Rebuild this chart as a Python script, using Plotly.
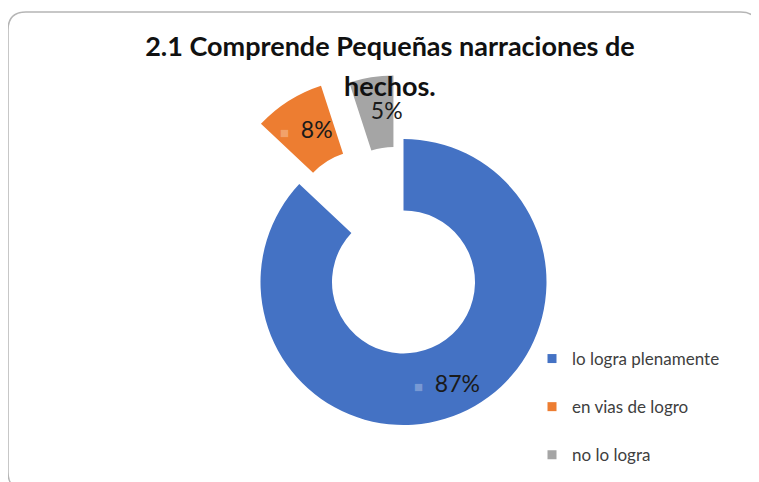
import math
import plotly.graph_objects as go

# ---------------- data ----------------
categories = ["lo logra plenamente", "en vias de logro", "no lo logra"]
values = [87, 8, 5]
colors = ["#4472C4", "#ED7D31", "#A5A5A5"]
key_colors = ["rgba(255,255,255,0.3)", "rgba(255,255,255,0.3)", "rgba(255,255,255,0.3)"]
pulls = [0.0, 0.50, 0.45]
title_line1 = "2.1 Comprende Pequeñas narraciones de"
title_line2 = "hechos."

# ---------------- layout constants (pixels) ----------------
W, H = 759, 482
OFF = 8            # page body margin
CX, CY, R = 403.5, 282.0, 143.0
HOLE = 0.5
LABEL_R = 0.77
FONT = "Lato"


def fx(x):
    return (x - OFF) / W


def fy(y):
    return 1 - (y - OFF) / H


fig = go.Figure()
annotations = []

total = sum(values)
cum = 0.0
for i, v in enumerate(values):
    mid = (cum + v / 2.0) / total * 2 * math.pi
    cum += v
    d = pulls[i] * R
    cx = CX + d * math.sin(mid)
    cy = CY - d * math.cos(mid)
    slice_colors = ["rgba(0,0,0,0)"] * len(values)
    slice_colors[i] = colors[i]
    fig.add_trace(go.Pie(
        labels=categories, values=values, hole=HOLE, sort=False,
        direction="clockwise", rotation=0,
        marker=dict(colors=slice_colors, line=dict(width=0)),
        textinfo="none",
        domain=dict(x=[fx(cx - R), fx(cx + R)], y=[fy(cy + R), fy(cy - R)]),
        showlegend=False, hoverinfo="skip",
    ))
    # data label (Excel style, with faded legend key)
    lx = cx + LABEL_R * R * math.sin(mid)
    ly = cy - LABEL_R * R * math.cos(mid)
    pct = round(100 * v / total)
    annotations.append(dict(
        text=f"<span style='color:{key_colors[i]};font-size:15px'>■</span>  {pct}%",
        x=fx(lx), y=fy(ly), xref="paper", yref="paper", showarrow=False,
        xanchor="center", yanchor="middle",
        font=dict(family=FONT, size=23, color="#1a1a1a"),
    ))

# legend entries
for cat, col in zip(categories, colors):
    fig.add_trace(go.Scatter(
        x=[None], y=[None], mode="markers", name=cat, legendgroup=cat,
        marker=dict(symbol="square", size=9, color=col),
        showlegend=True, hoverinfo="skip",
    ))

# title second line
annotations.append(dict(text=f"<b>{title_line2}</b>", x=fx(390), y=fy(85),
                        xref="paper", yref="paper", showarrow=False,
                        xanchor="center", yanchor="middle",
                        font=dict(family=FONT, size=27, color="#111111")))

# rounded border
left, top, right, bottom, r = 8, 12, 758.5, 490, 18
pts = [
    ("M", (left + r, top)), ("L", (right - r, top)),
    ("Q", (right, top), (right, top + r)), ("L", (right, bottom - r)),
    ("Q", (right, bottom), (right - r, bottom)), ("L", (left + r, bottom)),
    ("Q", (left, bottom), (left, bottom - r)), ("L", (left, top + r)),
    ("Q", (left, top), (left + r, top)),
]
path = ""
for seg in pts:
    path += seg[0] + " " + " ".join(f"{fx(p[0]):.5f},{fy(p[1]):.5f}" for p in seg[1:]) + " "
path += "Z"

fig.update_layout(
    width=W, height=H,
    margin=dict(l=0, r=0, t=0, b=0),
    paper_bgcolor="white", plot_bgcolor="white",
    xaxis=dict(visible=False), yaxis=dict(visible=False),
    title=dict(text=f"<b>{title_line1}</b>", x=fx(390), xanchor="center",
               y=fy(47), yanchor="middle", yref="container",
               font=dict(family=FONT, size=27, color="#111111")),
    annotations=annotations,
    legend=dict(x=fx(532), y=fy(341), xanchor="left", yanchor="top",
                bgcolor="rgba(0,0,0,0)", tracegroupgap=23, itemwidth=30,
                font=dict(family=FONT, size=17, color="#404040")),
    shapes=[dict(type="path", path=path, xref="paper", yref="paper",
                 line=dict(color="#b5b5b5", width=1.5))],
)

fig.write_html("out.html")
